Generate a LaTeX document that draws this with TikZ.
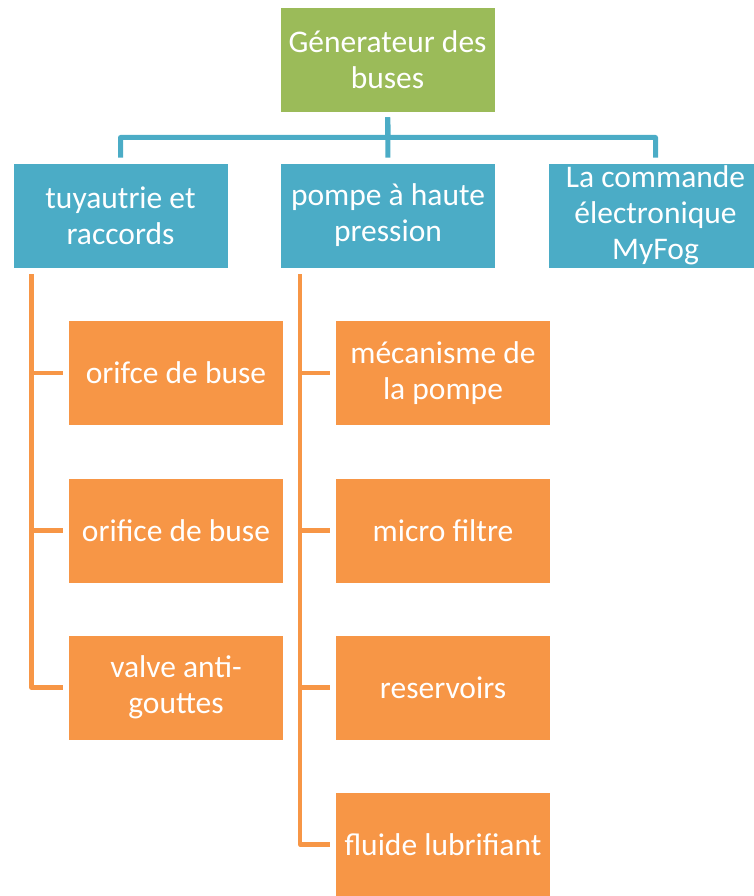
\documentclass[tikz,border=0pt]{standalone}
\usepackage{fontspec}
\setmainfont{Carlito}
\definecolor{topgreen}{HTML}{9BBB59}
\definecolor{midblue}{HTML}{4BACC6}
\definecolor{leaforange}{HTML}{F79646}
\begin{document}
\begin{tikzpicture}[x=1pt,y=-1pt,
  box/.style={rectangle, draw=white, line width=0.8pt, minimum width=215pt, minimum height=105pt,
    inner sep=2pt, align=center, text=white, font=\fontsize{31.5}{36}\selectfont},
  rootbox/.style={box, fill=topgreen},
  groupbox/.style={box, fill=midblue},
  leafbox/.style={box, fill=leaforange},
  bluelink/.style={draw=midblue, line width=5pt, line join=round, shorten <=5pt, shorten >=5pt},
  orangelink/.style={draw=leaforange, line width=4.5pt, line join=round, shorten <=6pt, shorten >=5pt}]
\clip (0,0) rectangle (754,896);

% root
\node[rootbox] (gen) at (387.5,59.5) {Génerateur des\\buses};

% second level
\node[groupbox] (tuy) at (120.5,215.5) {tuyautrie et\\raccords};
\node[groupbox] (pompe) at (388,215.5) {pompe à haute\\pression};
\node[groupbox] (cmd) at (655.5,215.5) {La commande\\électronique\\MyFog};

% leaves under "tuyautrie et raccords"
\node[leafbox] (t1) at (176,373) {orifce de buse};
\node[leafbox] (t2) at (176,530.5) {orifice de buse};
\node[leafbox] (t3) at (176,687.5) {valve anti-\\gouttes};

% leaves under "pompe à haute pression"
\node[leafbox] (p1) at (443,373) {mécanisme de\\la pompe};
\node[leafbox] (p2) at (443,530.5) {micro filtre};
\node[leafbox] (p3) at (443,687.5) {reservoirs};
\node[leafbox] (p4) at (443,844.5) {fluide lubrifiant};

% bus of the first level
\coordinate (bus) at (388,137.5);
\draw[bluelink] (gen.south) -- (bus) -| (tuy.north);
\draw[bluelink] (gen.south) -- (bus) -| (cmd.north);
\draw[bluelink] (gen.south) -- (pompe.north);

% vertical rails of the second level
\coordinate (trail) at ([xshift=19pt]tuy.south west);
\coordinate (prail) at ([xshift=20pt]pompe.south west);
\foreach \c in {t1,t2,t3}
  \draw[orangelink] (trail) |- (\c.west);
\foreach \c in {p1,p2,p3,p4}
  \draw[orangelink] (prail) |- (\c.west);
\end{tikzpicture}
\end{document}
